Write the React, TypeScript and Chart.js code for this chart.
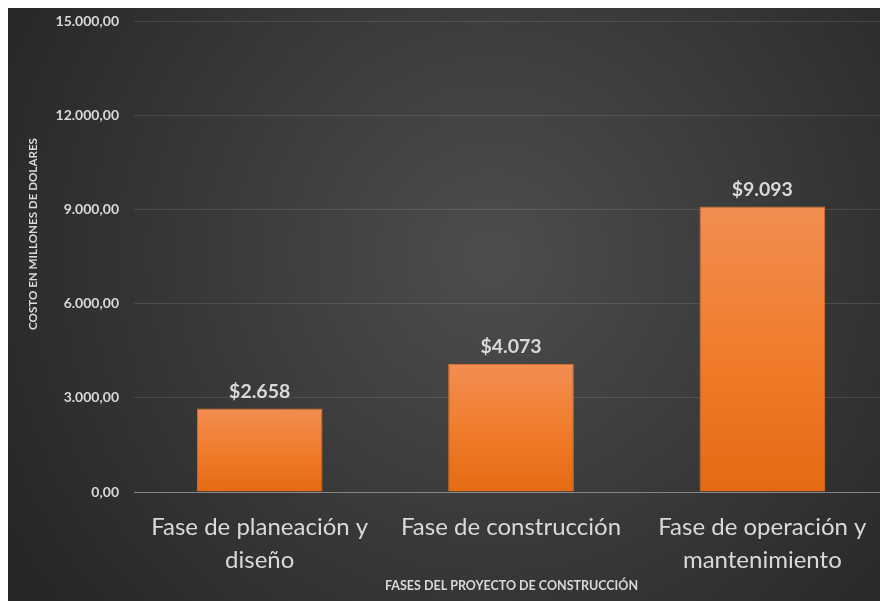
import React, { useEffect, useRef } from "react";
import { Chart, registerables } from "chart.js";

Chart.register(...registerables);

const categories: (string | string[])[] = [
  ["Fase de planeación y", "diseño"],
  "Fase de construcción",
  ["Fase de operación y", "mantenimiento"],
];
const costs: number[] = [2658, 4073, 9093];
const costLabels: string[] = ["$2.658", "$4.073", "$9.093"];
const yTicks: number[] = [0, 3000, 6000, 9000, 12000, 15000];
const yTitle = "COSTO EN MILLONES DE DOLARES";
const xTitle = "FASES DEL PROYECTO DE CONSTRUCCIÓN";

const FONT = "Lato, 'Open Sans', sans-serif";
const TEXT = "#d9d9d9";

function fmt(v: number): string {
  const int = Math.round(v).toString().replace(/\B(?=(\d{3})+(?!\d))/g, ".");
  return int + ",00";
}

const bgPlugin = {
  id: "bgPlugin",
  beforeDraw(chart: any) {
    const { ctx, width, height } = chart;
    ctx.save();
    const g = ctx.createRadialGradient(width * 0.55, height * 0.42, 0, width * 0.55, height * 0.42, width * 0.62);
    g.addColorStop(0, "#4d4d4d");
    g.addColorStop(1, "#272727");
    ctx.fillStyle = g;
    ctx.fillRect(0, 0, width, height);
    ctx.restore();
  },
};

const labelPlugin = {
  id: "labelPlugin",
  afterDatasetsDraw(chart: any) {
    const { ctx } = chart;
    const meta = chart.getDatasetMeta(0);
    ctx.save();
    ctx.fillStyle = TEXT;
    ctx.font = `bold 19.5px ${FONT}`;
    ctx.textAlign = "center";
    ctx.textBaseline = "middle";
    meta.data.forEach((bar: any, i: number) => {
      ctx.fillText(costLabels[i], bar.x, bar.y - 17);
    });
    ctx.restore();
  },
  afterDraw(chart: any) {
    const { ctx } = chart;
    ctx.save();
    ctx.fillStyle = TEXT;
    ctx.textAlign = "center";
    ctx.textBaseline = "middle";
    ctx.font = `bold 12.5px ${FONT}`;
    ctx.fillText(xTitle, 503.5, 578);
    ctx.translate(25, 226);
    ctx.rotate(-Math.PI / 2);
    ctx.font = `bold 11.6px ${FONT}`;
    ctx.fillText(yTitle, 0, 0);
    ctx.restore();
  },
};

export default function App() {
  const ref = useRef<HTMLCanvasElement | null>(null);
  useEffect(() => {
    if (!ref.current) return;
    const chart = new Chart(ref.current, {
      type: "bar",
      data: {
        labels: categories,
        datasets: [
          {
            data: costs,
            backgroundColor: (c: any) => {
              const ch = c.chart;
              const ys = ch.scales && ch.scales.y;
              if (!ys || !ch.chartArea || c.dataIndex === undefined) return "#ef7b2f";
              const top = ys.getPixelForValue(costs[c.dataIndex]);
              const bot = ys.getPixelForValue(0);
              if (!isFinite(top) || !isFinite(bot) || top === bot) return "#ef7b2f";
              const g = ch.ctx.createLinearGradient(0, top, 0, bot);
              g.addColorStop(0, "#f28d52");
              g.addColorStop(0.5, "#f07d2c");
              g.addColorStop(1, "#e56a14");
              return g;
            },
            borderColor: "#d9702a",
            borderWidth: 1,
            barPercentage: 1,
            categoryPercentage: 0.5,
          },
        ],
      },
      options: {
        animation: false,
        responsive: false,
        devicePixelRatio: 1,
        layout: { padding: { left: 0, right: -3, top: 13, bottom: 0 } },
        plugins: {
          legend: { display: false },
          tooltip: { enabled: false },
          title: { display: false },
        },
        scales: {
          x: {
            grid: { display: false, drawTicks: false },
            border: { display: false },
            ticks: {
              color: TEXT,
              font: { family: FONT, size: 24, lineHeight: 1.375 },
              padding: 19,
              maxRotation: 0,
              autoSkip: false,
            },
            afterFit: (s: any) => {
              s.height = 109;
              s.paddingLeft = 0;
              s.paddingRight = 0;
            },
          },
          y: {
            min: 0,
            max: 15000,
            afterBuildTicks: (s: any) => {
              s.ticks = yTicks.map((v) => ({ value: v }));
            },
            grid: {
              color: (c: any) => (c.tick && c.tick.value === 0 ? "#858585" : "rgba(255,255,255,0.11)"),
              lineWidth: 1,
              drawTicks: false,
            },
            border: { display: false },
            ticks: {
              color: TEXT,
              font: { family: FONT, size: 14, weight: "bold" },
              padding: 15,
              callback: (v: any) => fmt(Number(v)),
            },
            afterFit: (s: any) => {
              s.width = 126;
              s.paddingTop = 0;
              s.paddingBottom = 0;
            },
          },
        },
      },
      plugins: [bgPlugin, labelPlugin],
    } as any);
    return () => chart.destroy();
  }, []);
  return <canvas ref={ref} width={880} height={593} style={{ display: "block", width: 880, height: 593 }} />;
}
